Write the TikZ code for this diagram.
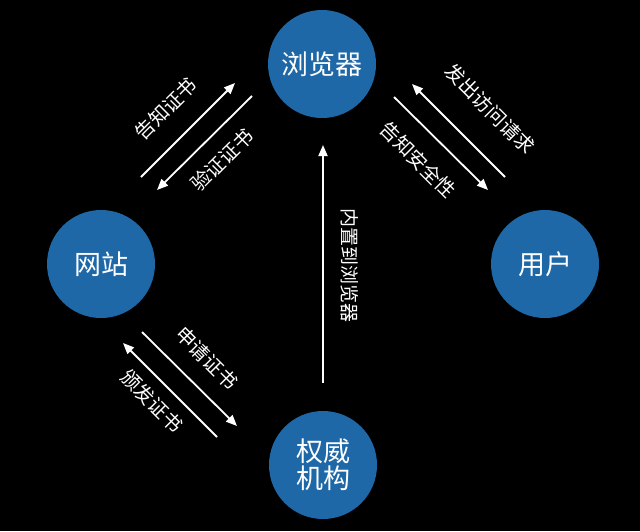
\documentclass[tikz,border=0pt]{standalone}
\usepackage{fontspec}
\setmainfont{Noto Sans CJK SC}
\usetikzlibrary{arrows.meta}
\definecolor{circblue}{RGB}{30,104,168}
\begin{document}
\begin{tikzpicture}[x=1pt,y=-1pt,
  party/.style={circle,fill=circblue,minimum size=108pt,inner sep=0pt,text=white,font=\fontsize{27}{31}\selectfont,align=center},
  flow/.style={draw=white,line width=1.8pt,-{Triangle[length=11pt,width=9pt]}},
  tag/.style={text=white,font=\fontsize{19.5}{22}\selectfont,inner sep=0pt}]
\fill[black] (0,0) rectangle (640,531);
\useasboundingbox (0,0) rectangle (640,531);
\node[party] (browser) at (322,64) {浏览器};
\node[party] (site) at (101,264) {网站};
\node[party] (user) at (545,264) {用户};
\node[party] (ca) at (323,465) {权威\\[-4pt]机构};
% coordinates
\coordinate (a1s) at (141,177); \coordinate (a1e) at (235,83);
\coordinate (a2s) at (252,96);  \coordinate (a2e) at (157,190);
\coordinate (a3s) at (505,177); \coordinate (a3e) at (412,84);
\coordinate (a4s) at (394,97);  \coordinate (a4e) at (488,190);
\coordinate (a5s) at (142,332); \coordinate (a5e) at (237,426);
\coordinate (a6s) at (217,437); \coordinate (a6e) at (123,343);
\coordinate (a7s) at (323,383); \coordinate (a7e) at (323,145);
\draw[flow] (a1s) -- (a1e);
\draw[flow] (a2s) -- (a2e);
\draw[flow] (a3s) -- (a3e);
\draw[flow] (a4s) -- (a4e);
\draw[flow] (a5s) -- (a5e);
\draw[flow] (a6s) -- (a6e);
\draw[flow] (a7s) -- (a7e);
\node[tag,rotate=45] (l1) at (166,109) {告知证书};
\node[tag,rotate=45] (l2) at (222,160) {验证证书};
\node[tag,rotate=-45] (l3) at (490,109) {发出访问请求};
\node[tag,rotate=-45] (l4) at (418,160) {告知安全性};
\node[tag,rotate=-45] (l5) at (207,358) {申请证书};
\node[tag,rotate=-45] (l6) at (152,401) {颁发证书};
\node[tag,rotate=-90,font=\fontsize{19}{22}\selectfont] (l7) at (350,265) {内置到浏览器};
\end{tikzpicture}
\end{document}
